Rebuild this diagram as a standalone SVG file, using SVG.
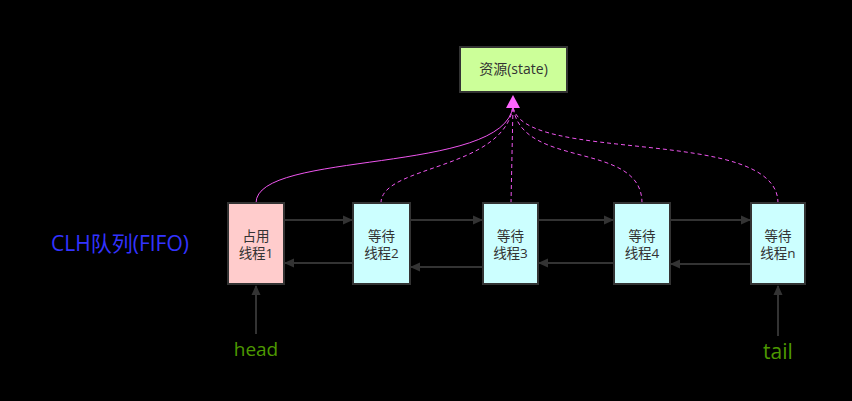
<svg xmlns="http://www.w3.org/2000/svg" width="852" height="401" viewBox="0 0 852 401">
<defs>
<style>
.box{stroke:#333333;stroke-width:2}
.nt{font-family:"Open Sans","Noto Sans CJK SC",sans-serif;font-size:13.5px;fill:#333333;text-anchor:middle}
.link{stroke:#333333;stroke-width:2;fill:none}
.cur{stroke:#ee55ee;stroke-width:1;fill:none}
.dash{stroke-dasharray:4 3}
</style>
<marker id="ah" markerWidth="10" markerHeight="10" refX="9" refY="5" orient="auto" markerUnits="userSpaceOnUse">
<path d="M0,0.5 L10,5 L0,9.5 Z" fill="#333333"/>
</marker>
</defs>
<rect width="852" height="401" fill="#000000"/>
<g id="connectors">
<line class="link" x1="284" y1="220" x2="352" y2="220" marker-end="url(#ah)"/>
<line class="link" x1="353" y1="263" x2="285" y2="263" marker-end="url(#ah)"/>
<line class="link" x1="410" y1="220" x2="482" y2="220" marker-end="url(#ah)"/>
<line class="link" x1="483" y1="267" x2="411" y2="267" marker-end="url(#ah)"/>
<line class="link" x1="538" y1="220" x2="613" y2="220" marker-end="url(#ah)"/>
<line class="link" x1="614" y1="263" x2="539" y2="263" marker-end="url(#ah)"/>
<line class="link" x1="670" y1="220" x2="750" y2="220" marker-end="url(#ah)"/>
<line class="link" x1="751" y1="264" x2="671" y2="264" marker-end="url(#ah)"/>
<line class="link" x1="256" y1="334" x2="256" y2="286" marker-end="url(#ah)"/>
<line class="link" x1="778" y1="336" x2="778" y2="286" marker-end="url(#ah)"/>
<path class="cur" d="M256,203 C256,150 505,175 513,106"/>
<path class="cur dash" d="M381,203 C381,165 505,170 513,106"/>
<path class="cur dash" d="M511,203 L513,106"/>
<path class="cur dash" d="M642,203 C642,140 520,170 513,106"/>
<path class="cur dash" d="M778,203 C778,125 520,165 513,106"/>
<path d="M513,95 L520,108 L506,108 Z" fill="#ff66ff"/>
</g>
<g id="resource">
<rect class="box" x="460" y="47" width="107" height="45" fill="#ccff99"/>
<text class="nt" x="513.5" y="74" style="font-size:14px">资源(state)</text>
</g>
<g id="node1">
<rect class="box" x="228" y="203" width="56" height="81" fill="#ffcccc"/>
<text class="nt" x="256" y="241">占用</text>
<text class="nt" x="256" y="258">线程1</text>
</g>
<g id="node2">
<rect class="box" x="353" y="203" width="57" height="81" fill="#ccffff"/>
<text class="nt" x="381.5" y="241">等待</text>
<text class="nt" x="381.5" y="258">线程2</text>
</g>
<g id="node3">
<rect class="box" x="483" y="203" width="55" height="81" fill="#ccffff"/>
<text class="nt" x="510.5" y="241">等待</text>
<text class="nt" x="510.5" y="258">线程3</text>
</g>
<g id="node4">
<rect class="box" x="614" y="203" width="56" height="81" fill="#ccffff"/>
<text class="nt" x="642" y="241">等待</text>
<text class="nt" x="642" y="258">线程4</text>
</g>
<g id="noden">
<rect class="box" x="751" y="203" width="54" height="81" fill="#ccffff"/>
<text class="nt" x="778" y="241">等待</text>
<text class="nt" x="778" y="258">线程n</text>
</g>
<g id="labels">
<text x="120" y="251" font-family="'Open Sans','Noto Sans CJK SC',sans-serif" font-size="21" fill="#3333ff" text-anchor="middle">CLH队列(FIFO)</text>
<text x="256" y="356" font-family="'Open Sans',sans-serif" font-size="19" fill="#4d9900" text-anchor="middle">head</text>
<text x="778" y="359" font-family="'Open Sans',sans-serif" font-size="21" fill="#4d9900" text-anchor="middle">tail</text>
</g>
</svg>
